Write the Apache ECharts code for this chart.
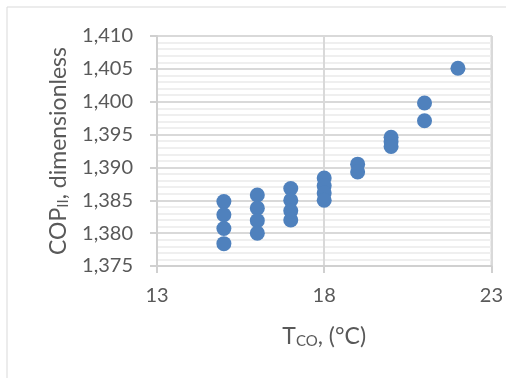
<!DOCTYPE html>
<html>
<head>
<meta charset="utf-8">
<script src="https://cdn.jsdelivr.net/npm/echarts@6/dist/echarts.min.js"></script>
<style>
html,body{margin:0;padding:0;background:#fff;}
#c{width:506px;height:378px;}
</style>
</head>
<body>
<div id="c"></div>
<script>
// T_CO (°C) values
const tco = [15, 15, 15, 15, 16, 16, 16, 16, 17, 17, 17, 17, 18, 18, 18, 18, 19, 19, 20, 20, 20, 21, 21, 22];
// COP_II values
const cop = [1.3848, 1.3828, 1.3807, 1.3784,
             1.3858, 1.3838, 1.3819, 1.3800,
             1.3868, 1.3850, 1.3834, 1.3820,
             1.3884, 1.3872, 1.3861, 1.3850,
             1.3905, 1.3893,
             1.3946, 1.3939, 1.3932,
             1.3998, 1.3971,
             1.4051];
const yTicks = ['1,375','1,380','1,385','1,390','1,395','1,400','1,405','1,410'];
const xTicks = [13, 18, 23];

const FONT = 'Lato';
const TXT = '#595959';

const chart = echarts.init(document.getElementById('c'), null, {renderer: 'canvas'});
chart.setOption({
  animation: false,
  backgroundColor: '#fff',
  graphic: [{
    type: 'rect', shape: {x: 7, y: 7, width: 520, height: 400},
    style: {fill: 'none', stroke: '#d9d9d9', lineWidth: 1}, silent: true, z: -10
  }],
  grid: {left: 157, top: 36, right: 12, bottom: 112, show: true,
         borderColor: '#404040', borderWidth: 1, backgroundColor: 'transparent'},
  xAxis: {
    type: 'value', min: 13, max: 23, interval: 5,
    name: '{a|T}{s|CO}{a|, (°C)}', nameLocation: 'middle', nameGap: 58,
    nameTextStyle: {rich: {
      a: {fontFamily: FONT, fontSize: 23, color: TXT},
      s: {fontFamily: FONT, fontSize: 15, color: TXT, verticalAlign: 'bottom', padding: [10, 0, 0, 0]}
    }},
    axisLine: {show: true, lineStyle: {color: '#d0d0d0', width: 2}},
    axisTick: {show: true, inside: false, length: 7, lineStyle: {color: '#d0d0d0', width: 2}},
    axisLabel: {fontFamily: FONT, fontSize: 20, color: TXT, margin: 20,
                formatter: v => xTicks.includes(v) ? String(v) : ''},
    splitLine: {show: true, lineStyle: {color: '#d9d9d9', width: 2}}
  },
  yAxis: {
    type: 'value', min: 1.375, max: 1.410, interval: 0.005,
    name: '{a|COP}{s|II}{a|, dimensionless}', nameLocation: 'middle', nameGap: 86, nameRotate: 90,
    nameTextStyle: {rich: {
      a: {fontFamily: FONT, fontSize: 23, color: TXT},
      s: {fontFamily: FONT, fontSize: 15, color: TXT, verticalAlign: 'bottom', padding: [10, 0, 0, 0]}
    }},
    axisLine: {show: true, lineStyle: {color: '#d0d0d0', width: 2}},
    axisTick: {show: true, inside: false, length: 7, lineStyle: {color: '#d0d0d0', width: 2}},
    axisLabel: {fontFamily: FONT, fontSize: 20, color: TXT, margin: 24,
                formatter: v => yTicks[Math.round((v - 1.375) / 0.005)]},
    splitLine: {show: true, lineStyle: {color: '#d9d9d9', width: 2}},
    minorTick: {show: false, splitNumber: 5},
    minorSplitLine: {show: true, lineStyle: {color: '#efefef', width: 2}}
  },
  series: [{
    type: 'scatter',
    data: tco.map((t, i) => [t, cop[i]]),
    symbol: 'circle', symbolSize: 15,
    itemStyle: {color: '#4f81bd', opacity: 1}
  }]
});
</script>
</body>
</html>
